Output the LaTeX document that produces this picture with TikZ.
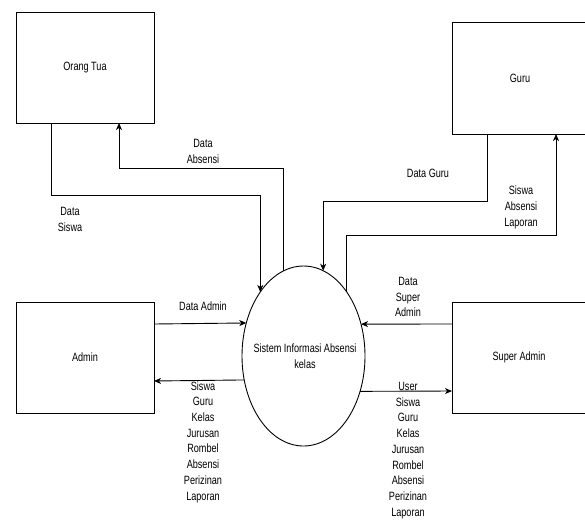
\documentclass[tikz,border=0pt]{standalone}
\usepackage{fontspec}
\setmainfont[FakeStretch=0.76]{Liberation Sans}
\usetikzlibrary{arrows.meta,shapes.geometric}
\begin{document}
\begin{tikzpicture}[x=1pt,y=-1pt,
  ent/.style={draw,line width=0.9pt,minimum width=138pt,minimum height=111pt,inner sep=0pt,outer sep=0pt,font=\fontsize{12}{15.7}\selectfont},
  proc/.style={draw,ellipse,line width=0.9pt,minimum width=123pt,minimum height=180pt,inner sep=0pt,outer sep=0pt},
  lbl/.style={align=center,inner sep=0pt,font=\fontsize{12}{15.7}\selectfont},
  flow/.style={line width=0.9pt,-{Stealth[length=7pt,width=6pt,inset=2pt]}}]
\useasboundingbox (0,0) rectangle (585,522);
\node[ent] (ot) at (85,67.5) {Orang Tua};
\node[ent,minimum width=136pt,minimum height=112pt] (guru) at (520,78) {Guru};
\node[ent] (admin) at (85,357.5) {Admin};
\node[ent,minimum width=134pt] (sa) at (519,357.5) {Super Admin};
\node[proc,label={[lbl,xshift=1.5pt]center:{Sistem Informasi Absensi\\kelas}}] (sys) at (303.5,356) {};
% Orang Tua -> sys
\coordinate (k1) at (51,195);
\draw[flow] (ot.south -| k1) -- (k1) -| (sys.124.2);
% sys -> Orang Tua
\coordinate (k2) at (119,168);
\draw[flow] (sys.103.6) |- (k2) -- (ot.south -| k2);
% Guru -> sys
\coordinate (k3) at (487,201);
\draw[flow] (guru.south -| k3) -- (k3) -| (sys.77.9);
% sys -> Guru
\coordinate (k4) at (556,235);
\draw[flow] (sys.56.8) |- (k4) -- (guru.south -| k4);
% Admin <-> sys
\coordinate (k5) at (154,324);
\draw[flow] (admin.east |- k5) -- (sys.150.9);
\coordinate (k6) at (154,381);
\draw[flow] (sys.202.9) -- (admin.east |- k6);
% Super Admin <-> sys
\coordinate (k7) at (452,324);
\draw[flow] (sa.west |- k7) -- (sys.29.1);
\coordinate (k8) at (452,391);
\draw[flow] (sys.328.3) -- (sa.west |- k8);
% labels
\node[lbl] (l1) at (70,219.5) {Data\\Siswa};
\node[lbl] (l2) at (203,151.5) {Data\\Absensi};
\node[lbl] (l3) at (428,173) {Data Guru};
\node[lbl] (l4) at (521,207.5) {Siswa\\Absensi\\Laporan};
\node[lbl] (l5) at (203,306) {Data Admin};
\node[lbl] (l6) at (203,442) {Siswa\\Guru\\Kelas\\Jurusan\\Rombel\\Absensi\\Perizinan\\Laporan};
\node[lbl] (l7) at (408,297) {Data\\Super\\Admin};
\node[lbl] (l8) at (408,450.5) {User\\Siswa\\Guru\\Kelas\\Jurusan\\Rombel\\Absensi\\Perizinan\\Laporan};
\end{tikzpicture}
\end{document}
